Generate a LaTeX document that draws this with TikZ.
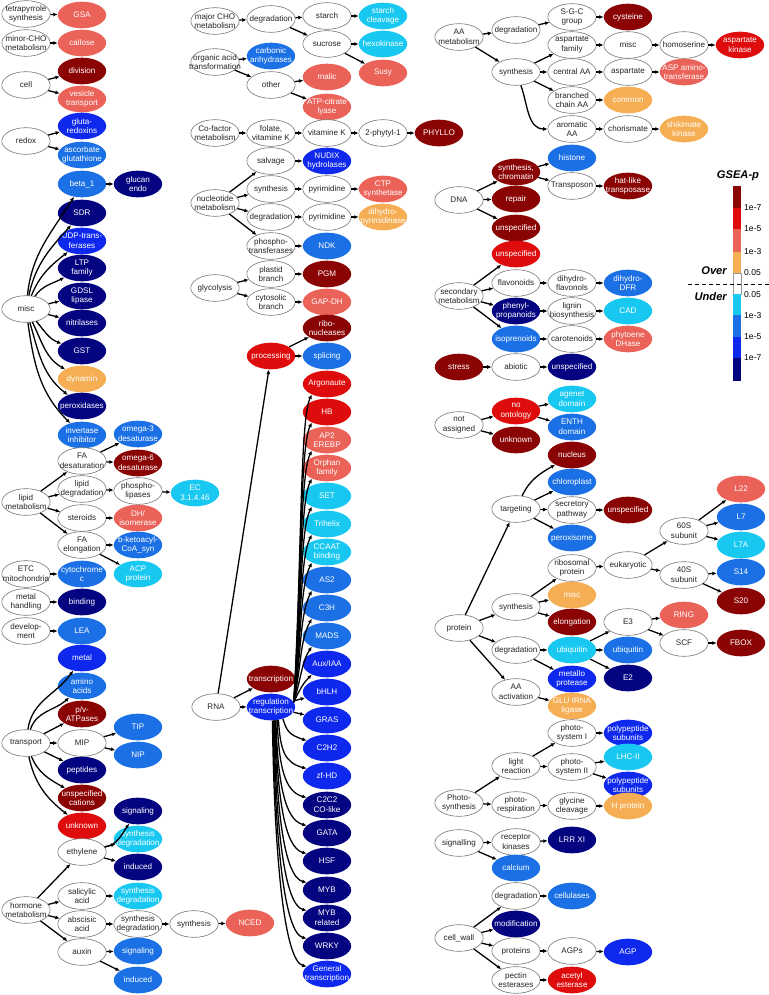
\documentclass[tikz,border=0pt]{standalone}
\usepackage{fontspec}
\setmainfont{Liberation Sans}
\usetikzlibrary{arrows.meta,shapes.geometric}

\definecolor{overVII}{RGB}{139,4,4}
\definecolor{overV}{RGB}{222,12,12}
\definecolor{overIII}{RGB}{234,98,88}
\definecolor{overI}{RGB}{246,174,84}
\definecolor{underI}{RGB}{24,200,240}
\definecolor{underIII}{RGB}{26,112,228}
\definecolor{underV}{RGB}{14,40,238}
\definecolor{underVII}{RGB}{4,4,128}
\newcommand{\bubblefont}{\fontsize{6.9}{8.2}\selectfont}

\begin{document}
\begin{tikzpicture}[
    x=0.03cm, y=-0.03cm,
    bubble/.style={ellipse, minimum width=1.45cm, minimum height=0.8cm, inner xsep=-9pt, inner ysep=-3pt, align=center, font=\bubblefont},
    cat/.style={bubble, draw=black!55, line width=0.5pt, fill=white, text=black!85},
    hit/.style={bubble, text=white},
    over7/.style={hit, fill=overVII},
    over5/.style={hit, fill=overV},
    over3/.style={hit, fill=overIII},
    over1/.style={hit, fill=overI},
    under1/.style={hit, fill=underI},
    under3/.style={hit, fill=underIII},
    under5/.style={hit, fill=underV},
    under7/.style={hit, fill=underVII},
    arrow/.style={-{Latex[length=1.3mm,width=1.2mm]}, line width=1.1pt},
    key/.style={font=\fontsize{7.3}{8.4}\selectfont, anchor=west, inner sep=0pt},
    side/.style={font=\fontsize{9.5}{11}\selectfont\bfseries\itshape, anchor=east, inner sep=0pt}
  ]
    \useasboundingbox (0,0) rectangle (769,995);

    \node[cat] (tps) at (26,14) {tetrapyrrole\\synthesis};
    \node[over3] (gsa) at (82,15) {GSA};
    \node[cat] (mcho) at (26,43) {minor-CHO\\metabolism};
    \node[over3] (callose) at (82,43) {callose};
    \node[cat] (cell) at (26,85) {cell};
    \node[over7] (division) at (82,71) {division};
    \node[over3] (vesicle) at (82,99) {vesicle\\transport};
    \node[cat] (redox) at (26,141) {redox};
    \node[under5] (glutared) at (82,126) {gluta-\\redoxins};
    \node[under3] (ascorb) at (82,155) {ascorbate\\glutathione};
    \node[cat] (misc) at (26,309) {misc};
    \node[under3] (beta) at (82,184) {beta\_1};
    \node[under7] (glucan) at (138,184) {glucan\\endo};
    \node[under7] (sdr) at (82,213) {SDR};
    \node[under5] (udp) at (82,241) {UDP-trans-\\ferases};
    \node[under7] (ltp) at (82,268) {LTP\\family};
    \node[under7] (gdsl) at (82,296) {GDSL\\lipase};
    \node[under7] (nitril) at (82,323) {nitrilases};
    \node[under7] (gst) at (82,351) {GST};
    \node[over1] (dynamin) at (82,379) {dynamin};
    \node[under7] (perox) at (82,406) {peroxidases};
    \node[under3] (invert) at (82,435) {invertase\\inhibitor};

    \node[cat] (lipid) at (26,502) {lipid\\metabolism};
    \node[cat] (fadesat) at (82,461) {FA\\desaturation};
    \node[under3] (omega3) at (138,434) {omega-3\\desaturase};
    \node[over7] (omega6) at (138,463) {omega-6\\desaturase};
    \node[cat] (lipdeg) at (82,489) {lipid\\degradation};
    \node[cat] (phlip) at (138,491) {phospho-\\lipases};
    \node[under1] (ec) at (195,493) {EC\\3.1.4.46};
    \node[cat] (steroids) at (82,518) {steroids};
    \node[over3] (dhiso) at (138,518) {DH/\\isomerase};
    \node[cat] (faelong) at (82,545) {FA\\elongation};
    \node[under3] (bketo) at (138,545) {b-ketoacyl-\\CoA\_syn};
    \node[under1] (acp) at (138,574) {ACP\\protein};
    \node[cat] (etc) at (26,574) {ETC\\mitochondria};
    \node[under3] (cytc) at (82,574) {cytochrome\\c};
    \node[cat] (metalh) at (26,602) {metal\\handling};
    \node[under7] (binding) at (82,602) {binding};
    \node[cat] (develop) at (26,631) {develop-\\ment};
    \node[under3] (lea) at (82,631) {LEA};

    \node[cat] (transport) at (26,743) {transport};
    \node[under5] (metal) at (82,658) {metal};
    \node[under3] (amino) at (82,686) {amino\\acids};
    \node[over7] (atpases) at (82,714) {p/v-\\ATPases};
    \node[cat] (mip) at (82,743) {MIP};
    \node[under3] (tip) at (138,727) {TIP};
    \node[under3] (nip) at (138,755) {NIP};
    \node[under7] (peptides) at (82,770) {peptides};
    \node[over7] (cations) at (82,798) {unspecified\\cations};
    \node[over5] (unknownT) at (82,826) {unknown};

    \node[cat] (hormone) at (26,910) {hormone\\metabolism};
    \node[cat] (ethylene) at (82,852) {ethylene};
    \node[under7] (ethsig) at (138,811) {signaling};
    \node[under1] (ethsyn) at (138,839) {synthesis\\degradation};
    \node[under7] (ethind) at (138,867) {induced};
    \node[cat] (salicyl) at (82,896) {salicylic\\acid};
    \node[under1] (salsyn) at (138,896) {synthesis\\degradation};
    \node[cat] (abscisic) at (82,924) {abscisic\\acid};
    \node[cat] (abasd) at (138,924) {synthesis\\degradation};
    \node[cat] (abasyn) at (194,924) {synthesis};
    \node[over3] (nced) at (250,923) {NCED};
    \node[cat] (auxin) at (82,952) {auxin};
    \node[under3] (auxsig) at (138,951) {signaling};
    \node[under3] (auxind) at (138,980) {induced};

    \node[cat] (majcho) at (215,21) {major CHO\\metabolism};
    \node[cat] (chodeg) at (271,19) {degradation};
    \node[cat] (starch) at (327,16) {starch};
    \node[under1] (starchcl) at (383,16) {starch\\cleavage};
    \node[cat] (sucrose) at (327,44) {sucrose};
    \node[under1] (hexok) at (383,44) {hexokinase};
    \node[over3] (susy) at (383,73) {Susy};
    \node[cat] (orgacid) at (215,62) {organic acid\\transformation};
    \node[under3] (carbanh) at (271,56) {carbonic\\anhydrases};
    \node[cat] (other) at (271,85) {other};
    \node[over3] (malic) at (327,77) {malic};
    \node[over3] (atpcl) at (327,107) {ATP-citrate\\lyase};
    \node[cat] (cofactor) at (215,133) {Co-factor\\metabolism};
    \node[cat] (folate) at (271,133) {folate,\\vitamine K};
    \node[cat] (vitk) at (327,133) {vitamine K};
    \node[cat] (phytyl) at (383,133) {2-phytyl-1};
    \node[over7] (phyllo) at (439,133) {PHYLLO};
    \node[cat] (nucleo) at (215,203) {nucleotide\\metabolism};
    \node[cat] (salvage) at (271,161) {salvage};
    \node[under5] (nudix) at (327,161) {NUDIX\\hydrolases};
    \node[cat] (nucsyn) at (271,189) {synthesis};
    \node[cat] (pyrsyn) at (327,189) {pyrimidine};
    \node[over3] (ctp) at (383,189) {CTP\\synthetase};
    \node[cat] (nucdeg) at (271,217) {degradation};
    \node[cat] (pyrdeg) at (327,217) {pyrimidine};
    \node[over1] (dihydro) at (383,217) {dihydro-\\pyrimidinase};
    \node[cat] (phtrans) at (271,246) {phospho-\\transferases};
    \node[under3] (ndk) at (327,246) {NDK};
    \node[cat] (glyco) at (215,288) {glycolysis};
    \node[cat] (plastid) at (271,274) {plastid\\branch};
    \node[over7] (pgm) at (327,274) {PGM};
    \node[cat] (cytosol) at (271,302) {cytosolic\\branch};
    \node[over3] (gapdh) at (327,302) {GAP-DH};

    \node[over5] (processing) at (271,356) {processing};
    \node[over7] (ribonuc) at (327,328) {ribo-\\nucleases};
    \node[under3] (splicing) at (327,356) {splicing};
    \node[over5] (argo) at (327,384) {Argonaute};
    \node[over5] (hb) at (327,412) {HB};
    \node[over3] (ap2) at (327,440) {AP2\\EREBP};
    \node[over3] (orphan) at (327,468) {Orphan\\family};
    \node[under1] (setf) at (327,496) {SET};
    \node[under1] (trihelix) at (327,524) {Trihelix};
    \node[under1] (ccaat) at (327,552) {CCAAT\\binding};
    \node[under3] (as2) at (327,580) {AS2};
    \node[under3] (c3h) at (327,608) {C3H};
    \node[under3] (mads) at (327,636) {MADS};
    \node[under5] (auxiaa) at (327,664) {Aux/IAA};
    \node[under5] (bhlh) at (327,692) {bHLH};
    \node[cat] (rna) at (216,707) {RNA};
    \node[over7] (transcr) at (271,679) {transcription};
    \node[under5] (regtr) at (271,707) {regulation\\transcription};
    \node[under5] (gras) at (327,720) {GRAS};
    \node[under5] (c2h2) at (327,748) {C2H2};
    \node[under5] (zfhd) at (327,776) {zf-HD};
    \node[under7] (c2c2) at (327,805) {C2C2\\CO-like};
    \node[under7] (gata) at (327,833) {GATA};
    \node[under7] (hsf) at (327,861) {HSF};
    \node[under7] (myb) at (327,890) {MYB};
    \node[under7] (mybrel) at (327,918) {MYB\\related};
    \node[under7] (wrky) at (327,946) {WRKY};
    \node[under5] (general) at (327,974) {General\\transcription};

    \node[cat] (aamet) at (459,37) {AA\\metabolism};
    \node[cat] (aadeg) at (516,30) {degradation};
    \node[cat] (sgc) at (572,17) {S-G-C\\group};
    \node[over7] (cysteine) at (628,17) {cysteine};
    \node[cat] (aasyn) at (516,72) {synthesis};
    \node[cat] (aspfam) at (572,45) {aspartate\\family};
    \node[cat] (aamisc) at (628,45) {misc};
    \node[cat] (homoser) at (684,45) {homoserine};
    \node[over5] (aspkin) at (740,45) {aspartate\\kinase};
    \node[cat] (centralaa) at (572,72) {central AA};
    \node[cat] (aspart) at (628,72) {aspartate};
    \node[over3] (aspat) at (684,72) {ASP amino-\\transferase};
    \node[cat] (branched) at (572,100) {branched\\chain AA};
    \node[over1] (common) at (628,100) {common};
    \node[cat] (aromatic) at (572,129) {aromatic\\AA};
    \node[cat] (chorism) at (628,129) {chorismate};
    \node[over1] (shikim) at (684,129) {shikimate\\kinase};

    \node[cat] (dna) at (459,200) {DNA};
    \node[over7] (synchrom) at (516,172) {synthesis,\\chromatin};
    \node[under3] (histone) at (572,158) {histone};
    \node[cat] (transposon) at (572,186) {Transposon};
    \node[over7] (hatlike) at (628,186) {hat-like\\transposase};
    \node[over7] (repair) at (516,199) {repair};
    \node[over7] (dnaunsp) at (516,228) {unspecified};

    \node[cat] (secmet) at (459,296) {secondary\\metabolism};
    \node[over5] (secunsp) at (516,254) {unspecified};
    \node[cat] (flavon) at (516,283) {flavonoids};
    \node[cat] (dihflav) at (572,283) {dihydro-\\flavonols};
    \node[under3] (dfr) at (628,283) {dihydro-\\DFR};
    \node[under7] (phenylp) at (516,311) {phenyl-\\propanoids};
    \node[cat] (lignin) at (572,311) {lignin\\biosynthesis};
    \node[under1] (cad) at (628,311) {CAD};
    \node[under3] (isopren) at (516,339) {isoprenoids};
    \node[cat] (carot) at (572,339) {carotenoids};
    \node[over3] (phytoene) at (628,339) {phytoene\\DHase};
    \node[over7] (stress) at (459,367) {stress};
    \node[cat] (abiotic) at (516,367) {abiotic};
    \node[under7] (stressunsp) at (572,367) {unspecified};
    \node[cat] (notass) at (459,425) {not\\assigned};
    \node[over5] (noonto) at (516,411) {no\\ontology};
    \node[under1] (agenet) at (572,399) {agenet\\domain};
    \node[under3] (enth) at (572,427) {ENTH\\domain};
    \node[over7] (unknownN) at (516,440) {unknown};

    \node[cat] (protein) at (459,628) {protein};
    \node[cat] (targeting) at (516,509) {targeting};
    \node[over7] (nucleus) at (572,455) {nucleus};
    \node[under3] (chloro) at (572,482) {chloroplast};
    \node[cat] (secretory) at (572,510) {secretory\\pathway};
    \node[over7] (secunspP) at (628,510) {unspecified};
    \node[under3] (peroxis) at (572,538) {peroxisome};
    \node[cat] (protsyn) at (516,607) {synthesis};
    \node[cat] (ribosomal) at (572,568) {ribosomal\\protein};
    \node[cat] (eukaryotic) at (628,565) {eukaryotic};
    \node[cat] (sub60) at (684,531) {60S\\subunit};
    \node[over3] (l22) at (741,489) {L22};
    \node[under3] (l7) at (741,517) {L7};
    \node[under1] (l7a) at (741,545) {L7A};
    \node[cat] (sub40) at (684,575) {40S\\subunit};
    \node[under3] (s14) at (741,572) {S14};
    \node[over7] (s20) at (741,601) {S20};
    \node[over1] (protmisc) at (572,595) {misc};
    \node[over7] (elongation) at (572,622) {elongation};
    \node[cat] (protdeg) at (516,650) {degradation};
    \node[under1] (ubiq) at (572,650) {ubiquitin};
    \node[cat] (e3) at (628,622) {E3};
    \node[over3] (ring) at (684,615) {RING};
    \node[cat] (scf) at (684,643) {SCF};
    \node[over7] (fbox) at (741,643) {FBOX};
    \node[under3] (ubiqb) at (628,650) {ubiquitin};
    \node[under7] (e2) at (628,678) {E2};
    \node[under5] (metallo) at (572,679) {metallo\\protease};
    \node[cat] (aaact) at (516,692) {AA\\activation};
    \node[over1] (glutrna) at (572,706) {GLU tRNA\\ligase};

    \node[cat] (photo) at (459,803) {Photo-\\synthesis};
    \node[cat] (light) at (516,766) {light\\reaction};
    \node[cat] (ps1) at (572,733) {photo-\\system I};
    \node[under5] (ps1poly) at (628,733) {polypeptide\\subunits};
    \node[cat] (ps2) at (572,767) {photo-\\system II};
    \node[under1] (lhc) at (628,757) {LHC-II};
    \node[under5] (ps2poly) at (628,785) {polypeptide\\subunits};
    \node[cat] (photoresp) at (516,805) {photo-\\respiration};
    \node[cat] (glycine) at (572,806) {glycine\\cleavage};
    \node[over1] (hprot) at (628,806) {H protein};
    \node[cat] (signalling) at (459,843) {signalling};
    \node[cat] (receptor) at (516,842) {receptor\\kinases};
    \node[under7] (lrr) at (572,840) {LRR XI};
    \node[under3] (calcium) at (516,868) {calcium};
    \node[cat] (cellwall) at (459,938) {cell\_wall};
    \node[cat] (cwdeg) at (516,896) {degradation};
    \node[under3] (cellulases) at (572,896) {cellulases};
    \node[under7] (modif) at (516,924) {modification};
    \node[cat] (cwprot) at (516,951) {proteins};
    \node[cat] (agps) at (572,951) {AGPs};
    \node[under5] (agp) at (628,952) {AGP};
    \node[cat] (pectin) at (516,980) {pectin\\esterases};
    \node[over5] (acetyl) at (572,980) {acetyl\\esterase};

    \draw[arrow] (tps) -- (gsa);
    \draw[arrow] (mcho) -- (callose);
    \draw[arrow] (cell) -- (division);
    \draw[arrow] (cell) -- (vesicle);
    \draw[arrow] (redox) -- (glutared);
    \draw[arrow] (redox) -- (ascorb);
    \draw[arrow] (misc) to[out=84,in=238] (beta);
    \draw[arrow] (misc) to[out=78,in=228] (sdr);
    \draw[arrow] (misc) to[out=68,in=218] (udp);
    \draw[arrow] (misc) to[out=55,in=208] (ltp);
    \draw[arrow] (misc) -- (gdsl);
    \draw[arrow] (misc) -- (nitril);
    \draw[arrow] (misc) to[out=-50,in=160] (gst);
    \draw[arrow] (misc) to[out=-64,in=150] (dynamin);
    \draw[arrow] (misc) to[out=-74,in=142] (perox);
    \draw[arrow] (misc) to[out=-82,in=135] (invert);
    \draw[arrow] (beta) -- (glucan);
    \draw[arrow] (lipid) -- (fadesat);
    \draw[arrow] (lipid) -- (lipdeg);
    \draw[arrow] (lipid) -- (steroids);
    \draw[arrow] (lipid) -- (faelong);
    \draw[arrow] (fadesat) -- (omega3);
    \draw[arrow] (fadesat) -- (omega6);
    \draw[arrow] (lipdeg) -- (phlip);
    \draw[arrow] (phlip) -- (ec);
    \draw[arrow] (steroids) -- (dhiso);
    \draw[arrow] (faelong) -- (bketo);
    \draw[arrow] (faelong) -- (acp);
    \draw[arrow] (etc) -- (cytc);
    \draw[arrow] (metalh) -- (binding);
    \draw[arrow] (develop) -- (lea);
    \draw[arrow] (transport) to[out=82,in=235] (metal);
    \draw[arrow] (transport) to[out=72,in=222] (amino);
    \draw[arrow] (transport) -- (atpases);
    \draw[arrow] (transport) -- (mip);
    \draw[arrow] (mip) -- (tip);
    \draw[arrow] (mip) -- (nip);
    \draw[arrow] (transport) -- (peptides);
    \draw[arrow] (transport) to[out=-68,in=150] (cations);
    \draw[arrow] (transport) to[out=-78,in=142] (unknownT);
    \draw[arrow] (hormone) -- (ethylene);
    \draw[arrow] (ethylene) to[out=12,in=235] (ethsig);
    \draw[arrow] (ethylene) -- (ethsyn);
    \draw[arrow] (ethylene) -- (ethind);
    \draw[arrow] (hormone) -- (salicyl);
    \draw[arrow] (salicyl) -- (salsyn);
    \draw[arrow] (hormone) -- (abscisic);
    \draw[arrow] (abscisic) -- (abasd);
    \draw[arrow] (abasd) -- (abasyn);
    \draw[arrow] (abasyn) -- (nced);
    \draw[arrow] (hormone) -- (auxin);
    \draw[arrow] (auxin) -- (auxsig);
    \draw[arrow] (auxin) -- (auxind);

    \draw[arrow] (majcho) -- (chodeg);
    \draw[arrow] (chodeg) -- (starch);
    \draw[arrow] (starch) -- (starchcl);
    \draw[arrow] (chodeg) -- (sucrose);
    \draw[arrow] (sucrose) -- (hexok);
    \draw[arrow] (sucrose) -- (susy);
    \draw[arrow] (orgacid) -- (carbanh);
    \draw[arrow] (orgacid) -- (other);
    \draw[arrow] (other) -- (malic);
    \draw[arrow] (other) -- (atpcl);
    \draw[arrow] (cofactor) -- (folate);
    \draw[arrow] (folate) -- (vitk);
    \draw[arrow] (vitk) -- (phytyl);
    \draw[arrow] (phytyl) -- (phyllo);
    \draw[arrow] (nucleo) -- (salvage);
    \draw[arrow] (salvage) -- (nudix);
    \draw[arrow] (nucleo) -- (nucsyn);
    \draw[arrow] (nucsyn) -- (pyrsyn);
    \draw[arrow] (pyrsyn) -- (ctp);
    \draw[arrow] (nucleo) -- (nucdeg);
    \draw[arrow] (nucdeg) -- (pyrdeg);
    \draw[arrow] (pyrdeg) -- (dihydro);
    \draw[arrow] (nucleo) -- (phtrans);
    \draw[arrow] (phtrans) -- (ndk);
    \draw[arrow] (glyco) -- (plastid);
    \draw[arrow] (plastid) -- (pgm);
    \draw[arrow] (glyco) -- (cytosol);
    \draw[arrow] (cytosol) -- (gapdh);

    \draw[arrow] (rna) -- (processing);
    \draw[arrow] (processing) -- (ribonuc);
    \draw[arrow] (processing) -- (splicing);
    \draw[arrow] (rna) -- (transcr);
    \draw[arrow] (rna) -- (regtr);
    \draw[arrow] (regtr.12) .. controls +(8,-141) and +(-12,24) .. (argo.215);
    \draw[arrow] (regtr.12) .. controls +(8,-128) and +(-12,24) .. (hb.215);
    \draw[arrow] (regtr.12) .. controls +(8,-116) and +(-12,24) .. (ap2.215);
    \draw[arrow] (regtr.12) .. controls +(8,-103) and +(-12,24) .. (orphan.215);
    \draw[arrow] (regtr.12) .. controls +(8,-90) and +(-12,24) .. (setf.215);
    \draw[arrow] (regtr.12) .. controls +(8,-78) and +(-12,24) .. (trihelix.215);
    \draw[arrow] (regtr.12) .. controls +(8,-65) and +(-12,24) .. (ccaat.215);
    \draw[arrow] (regtr.12) .. controls +(8,-53) and +(-12,24) .. (as2.215);
    \draw[arrow] (regtr.12) .. controls +(8,-40) and +(-12,22) .. (c3h.215);
    \draw[arrow] (regtr.12) .. controls +(8,-27) and +(-10,15) .. (mads.215);
    \draw[arrow] (regtr.12) .. controls +(7,-15) and +(-8,8) .. (auxiaa.215);
    \draw[arrow] (regtr) -- (bhlh);
    \draw[arrow] (regtr) -- (gras);
    \draw[arrow] (regtr.-45) .. controls +(4,12) and +(-18,-6) .. (c2h2.160);
    \draw[arrow] (regtr.-60) .. controls +(2,31) and +(-22,-6) .. (zfhd.160);
    \draw[arrow] (regtr.-65) .. controls +(2,47) and +(-22,-6) .. (c2c2.160);
    \draw[arrow] (regtr.-70) .. controls +(2,62) and +(-22,-6) .. (gata.160);
    \draw[arrow] (regtr.-72) .. controls +(2,78) and +(-22,-6) .. (hsf.160);
    \draw[arrow] (regtr.-75) .. controls +(2,94) and +(-22,-6) .. (myb.160);
    \draw[arrow] (regtr.-78) .. controls +(2,109) and +(-22,-6) .. (mybrel.160);
    \draw[arrow] (regtr.-81) .. controls +(2,124) and +(-22,-6) .. (wrky.160);
    \draw[arrow] (regtr.-84) .. controls +(2,140) and +(-22,-6) .. (general.160);

    \draw[arrow] (aamet) -- (aadeg);
    \draw[arrow] (aadeg) -- (sgc);
    \draw[arrow] (sgc) -- (cysteine);
    \draw[arrow] (aamet) -- (aasyn);
    \draw[arrow] (aasyn) -- (aspfam);
    \draw[arrow] (aspfam) -- (aamisc);
    \draw[arrow] (aamisc) -- (homoser);
    \draw[arrow] (homoser) -- (aspkin);
    \draw[arrow] (aasyn) -- (centralaa);
    \draw[arrow] (centralaa) -- (aspart);
    \draw[arrow] (aspart) -- (aspat);
    \draw[arrow] (aasyn) -- (branched);
    \draw[arrow] (branched) -- (common);
    \draw[arrow] (aasyn) to[out=-70,in=180] (aromatic);
    \draw[arrow] (aromatic) -- (chorism);
    \draw[arrow] (chorism) -- (shikim);
    \draw[arrow] (dna) -- (synchrom);
    \draw[arrow] (synchrom) -- (histone);
    \draw[arrow] (synchrom) -- (transposon);
    \draw[arrow] (transposon) -- (hatlike);
    \draw[arrow] (dna) -- (repair);
    \draw[arrow] (dna) -- (dnaunsp);
    \draw[arrow] (secmet) -- (secunsp);
    \draw[arrow] (secmet) -- (flavon);
    \draw[arrow] (flavon) -- (dihflav);
    \draw[arrow] (dihflav) -- (dfr);
    \draw[arrow] (secmet) -- (phenylp);
    \draw[arrow] (phenylp) -- (lignin);
    \draw[arrow] (lignin) -- (cad);
    \draw[arrow] (secmet) -- (isopren);
    \draw[arrow] (isopren) -- (carot);
    \draw[arrow] (carot) -- (phytoene);
    \draw[arrow] (stress) -- (abiotic);
    \draw[arrow] (abiotic) -- (stressunsp);
    \draw[arrow] (notass) -- (noonto);
    \draw[arrow] (noonto) -- (agenet);
    \draw[arrow] (noonto) -- (enth);
    \draw[arrow] (notass) -- (unknownN);

    \draw[arrow] (protein) -- (targeting);
    \draw[arrow] (targeting) to[out=65,in=210] (nucleus);
    \draw[arrow] (targeting) -- (chloro);
    \draw[arrow] (targeting) -- (secretory);
    \draw[arrow] (secretory) -- (secunspP);
    \draw[arrow] (targeting) -- (peroxis);
    \draw[arrow] (protein) -- (protsyn);
    \draw[arrow] (protsyn) -- (ribosomal);
    \draw[arrow] (ribosomal) -- (eukaryotic);
    \draw[arrow] (eukaryotic) -- (sub60);
    \draw[arrow] (sub60) -- (l22);
    \draw[arrow] (sub60) -- (l7);
    \draw[arrow] (sub60) -- (l7a);
    \draw[arrow] (eukaryotic) -- (sub40);
    \draw[arrow] (sub40) -- (s14);
    \draw[arrow] (sub40) -- (s20);
    \draw[arrow] (protsyn) -- (protmisc);
    \draw[arrow] (protsyn) -- (elongation);
    \draw[arrow] (protein) -- (protdeg);
    \draw[arrow] (protdeg) -- (ubiq);
    \draw[arrow] (ubiq) -- (e3);
    \draw[arrow] (e3) -- (ring);
    \draw[arrow] (e3) -- (scf);
    \draw[arrow] (scf) -- (fbox);
    \draw[arrow] (ubiq) -- (ubiqb);
    \draw[arrow] (ubiq) -- (e2);
    \draw[arrow] (protdeg) -- (metallo);
    \draw[arrow] (protein) -- (aaact);
    \draw[arrow] (aaact) -- (glutrna);

    \draw[arrow] (photo) -- (light);
    \draw[arrow] (light) -- (ps1);
    \draw[arrow] (ps1) -- (ps1poly);
    \draw[arrow] (light) -- (ps2);
    \draw[arrow] (ps2) -- (lhc);
    \draw[arrow] (ps2) -- (ps2poly);
    \draw[arrow] (photo) -- (photoresp);
    \draw[arrow] (photoresp) -- (glycine);
    \draw[arrow] (glycine) -- (hprot);
    \draw[arrow] (signalling) -- (receptor);
    \draw[arrow] (receptor) -- (lrr);
    \draw[arrow] (signalling) -- (calcium);
    \draw[arrow] (cellwall) -- (cwdeg);
    \draw[arrow] (cwdeg) -- (cellulases);
    \draw[arrow] (cellwall) -- (modif);
    \draw[arrow] (cellwall) -- (cwprot);
    \draw[arrow] (cwprot) -- (agps);
    \draw[arrow] (agps) -- (agp);
    \draw[arrow] (cellwall) -- (pectin);
    \draw[arrow] (pectin) -- (acetyl);

    \node[font=\fontsize{9.5}{11}\selectfont\bfseries\itshape] (gsea) at (738,176) {GSEA-p};
    \fill[overVII] (733,186) rectangle (741,208);
    \fill[overV] (733,208) rectangle (741,229);
    \fill[overIII] (733,229) rectangle (741,252);
    \fill[overI] (733,252) rectangle (741,273);
    \draw[black!40, line width=0.3pt, fill=white] (733,273) rectangle (741,294);
    \fill[underI] (733,294) rectangle (741,315);
    \fill[underIII] (733,315) rectangle (741,337);
    \fill[underV] (733,337) rectangle (741,358);
    \fill[underVII] (733,358) rectangle (741,381);
    \draw[dashed, line width=0.5pt] (688,284) -- (769,284);
    \node[key] (ka) at (744,208) {1e-7};
    \node[key] (kb) at (744,229) {1e-5};
    \node[key] (kc) at (744,252) {1e-3};
    \node[key] (kd) at (744,273) {0.05};
    \node[key] (ke) at (744,295) {0.05};
    \node[key] (kf) at (744,316) {1e-3};
    \node[key] (kg) at (744,337) {1e-5};
    \node[key] (kh) at (744,358) {1e-7};
    \node[side] (over) at (727,271) {Over};
    \node[side] (under) at (727,297) {Under};
  \end{tikzpicture}
\end{document}
